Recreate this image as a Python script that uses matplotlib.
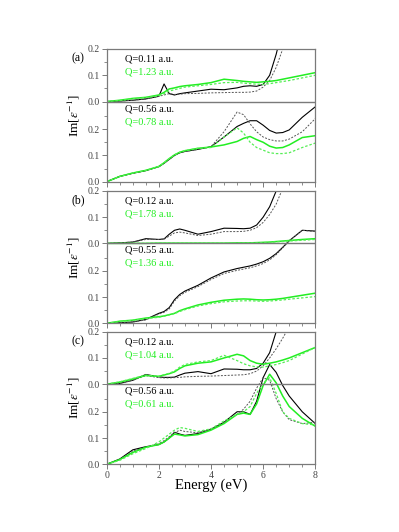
import matplotlib
matplotlib.use("Agg")
import matplotlib.pyplot as plt
from matplotlib.ticker import AutoMinorLocator, FixedLocator

plt.rcParams['font.family'] = ['Liberation Serif', 'DejaVu Serif']
plt.rcParams['mathtext.fontset'] = 'stix'

# energy grid (eV)
energy = [0, 0.5, 1, 1.5, 2, 2.2, 2.4, 2.6, 2.8, 3, 3.5, 4, 4.5, 5, 5.25,
          5.5, 5.75, 6, 6.25, 6.5, 6.75, 7, 7.5, 8]

# panel (a)
a_top_black = [0, 0.002, 0.005, 0.01, 0.02, 0.067, 0.03, 0.025, 0.03, 0.033, 0.04, 0.047,
               0.045, 0.052, 0.058, 0.06, 0.058, 0.065, 0.1, 0.18, 0.28, 0.4, 0.6, 0.8]
a_top_black_dot = [0, 0.002, 0.005, 0.01, 0.02, 0.025, 0.03, 0.027, 0.028, 0.03, 0.031, 0.033,
                   0.034, 0.035, 0.035, 0.036, 0.04, 0.055, 0.08, 0.13, 0.2, 0.28, 0.45, 0.6]
a_top_green = [0, 0.005, 0.012, 0.016, 0.025, 0.035, 0.048, 0.052, 0.057, 0.06, 0.065, 0.072,
               0.085, 0.08, 0.077, 0.075, 0.073, 0.075, 0.077, 0.08, 0.085, 0.09, 0.1, 0.11]
a_top_green_dot = [0, 0.004, 0.01, 0.015, 0.022, 0.03, 0.04, 0.045, 0.05, 0.055, 0.06, 0.065,
                   0.072, 0.073, 0.07, 0.068, 0.066, 0.065, 0.068, 0.072, 0.076, 0.08, 0.09, 0.1]
a_bot_black = [0, 0.02, 0.032, 0.042, 0.057, 0.07, 0.085, 0.1, 0.11, 0.115, 0.123, 0.133,
               0.17, 0.21, 0.222, 0.232, 0.232, 0.215, 0.195, 0.185, 0.187, 0.197, 0.245, 0.285]
a_bot_black_dot = [0, 0.02, 0.032, 0.042, 0.057, 0.07, 0.085, 0.1, 0.11, 0.115, 0.123, 0.133,
                   0.19, 0.265, 0.255, 0.22, 0.19, 0.17, 0.16, 0.155, 0.155, 0.162, 0.19, 0.24]
a_bot_green = [0, 0.02, 0.033, 0.043, 0.058, 0.072, 0.088, 0.102, 0.112, 0.118, 0.127, 0.132,
               0.14, 0.153, 0.165, 0.172, 0.16, 0.15, 0.135, 0.128, 0.13, 0.14, 0.168, 0.175]
a_bot_green_dot = [0, 0.02, 0.033, 0.043, 0.058, 0.072, 0.088, 0.102, 0.112, 0.118, 0.127, 0.13,
                   0.17, 0.205, 0.185, 0.15, 0.13, 0.12, 0.11, 0.107, 0.107, 0.11, 0.13, 0.147]

# panel (b)
b_top_black = [0, 0.002, 0.005, 0.018, 0.015, 0.017, 0.035, 0.05, 0.055, 0.05, 0.035, 0.045,
               0.058, 0.057, 0.056, 0.058, 0.07, 0.1, 0.14, 0.2, 0.27, 0.35, 0.5, 0.7]
b_top_black_dot = [0, 0.002, 0.005, 0.015, 0.015, 0.016, 0.028, 0.04, 0.043, 0.04, 0.03, 0.035,
                   0.045, 0.045, 0.046, 0.05, 0.06, 0.08, 0.11, 0.15, 0.21, 0.28, 0.42, 0.6]
b_top_green = [0, 0, 0, 0, 0.001, 0.001, 0.001, 0.001, 0.001, 0.001, 0.001, 0.001,
               0.001, 0.002, 0.002, 0.002, 0.003, 0.004, 0.005, 0.007, 0.009, 0.011, 0.015, 0.018]
b_top_green_dot = [0, 0, 0, 0, 0.001, 0.001, 0.001, 0.001, 0.001, 0.001, 0.001, 0.001,
                   0.001, 0.001, 0.002, 0.002, 0.002, 0.003, 0.004, 0.006, 0.007, 0.009, 0.012, 0.015]
b_bot_black = [0, 0.002, 0.005, 0.015, 0.038, 0.045, 0.06, 0.09, 0.11, 0.123, 0.145, 0.173,
               0.196, 0.209, 0.214, 0.219, 0.226, 0.235, 0.248, 0.266, 0.29, 0.315, 0.355, 0.352]
b_bot_black_dot = [0, 0.002, 0.005, 0.013, 0.035, 0.042, 0.055, 0.085, 0.105, 0.118, 0.14, 0.167,
                   0.19, 0.202, 0.207, 0.212, 0.219, 0.228, 0.242, 0.262, 0.288, 0.315, 0.355, 0.35]
b_bot_green = [0, 0.008, 0.012, 0.02, 0.025, 0.028, 0.033, 0.038, 0.048, 0.055, 0.07, 0.08,
               0.088, 0.092, 0.093, 0.092, 0.09, 0.089, 0.09, 0.092, 0.095, 0.099, 0.107, 0.115]
b_bot_green_dot = [0, 0.007, 0.011, 0.018, 0.023, 0.027, 0.032, 0.037, 0.045, 0.052, 0.066, 0.075,
                   0.082, 0.085, 0.086, 0.086, 0.085, 0.084, 0.085, 0.087, 0.089, 0.092, 0.097, 0.102]

# panel (c)
c_top_black = [0, 0.003, 0.015, 0.037, 0.028, 0.026, 0.026, 0.027, 0.035, 0.042, 0.048, 0.04,
               0.058, 0.057, 0.055, 0.055, 0.06, 0.08, 0.12, 0.2, 0.28, 0.37, 0.55, 0.75]
c_top_black_dot = [0, 0.003, 0.015, 0.033, 0.025, 0.024, 0.024, 0.025, 0.026, 0.028, 0.03, 0.031,
                   0.033, 0.035, 0.036, 0.04, 0.05, 0.07, 0.1, 0.135, 0.175, 0.22, 0.33, 0.45]
c_top_green = [0, 0.008, 0.02, 0.033, 0.03, 0.035, 0.04, 0.047, 0.06, 0.07, 0.08, 0.085,
               0.1, 0.114, 0.108, 0.09, 0.08, 0.076, 0.08, 0.085, 0.092, 0.1, 0.12, 0.14]
c_top_green_dot = [0, 0.009, 0.022, 0.035, 0.03, 0.036, 0.042, 0.05, 0.065, 0.075, 0.085, 0.09,
                   0.11, 0.09, 0.078, 0.07, 0.066, 0.065, 0.07, 0.075, 0.082, 0.09, 0.115, 0.14]
c_bot_black = [0, 0.02, 0.055, 0.067, 0.075, 0.085, 0.1, 0.122, 0.115, 0.11, 0.117, 0.133,
               0.16, 0.2, 0.2, 0.19, 0.24, 0.33, 0.38, 0.35, 0.3, 0.26, 0.2, 0.155]
c_bot_black_dot = [0, 0.018, 0.05, 0.065, 0.078, 0.09, 0.105, 0.12, 0.13, 0.125, 0.12, 0.135,
                   0.16, 0.19, 0.21, 0.24, 0.29, 0.33, 0.32, 0.25, 0.2, 0.17, 0.155, 0.16]
c_bot_green = [0, 0.018, 0.045, 0.065, 0.075, 0.085, 0.1, 0.115, 0.112, 0.108, 0.113, 0.13,
               0.155, 0.19, 0.195, 0.19, 0.23, 0.3, 0.343, 0.31, 0.26, 0.22, 0.175, 0.145]
c_bot_green_dot = [0, 0.015, 0.04, 0.06, 0.085, 0.1, 0.115, 0.13, 0.14, 0.137, 0.125, 0.135,
                   0.165, 0.19, 0.2, 0.22, 0.27, 0.31, 0.33, 0.27, 0.2, 0.175, 0.155, 0.15]

panel_tags = ['(a)', '(b)', '(c)']
top_labels = [('Q=0.11 a.u.', 'Q=1.23 a.u.'), ('Q=0.12 a.u.', 'Q=1.78 a.u.'), ('Q=0.12 a.u.', 'Q=1.04 a.u.')]
bot_labels = [('Q=0.56 a.u.', 'Q=0.78 a.u.'), ('Q=0.55 a.u.', 'Q=1.36 a.u.'), ('Q=0.56 a.u.', 'Q=0.61 a.u.')]
panels = [
    (a_top_black, a_top_black_dot, a_top_green, a_top_green_dot,
     a_bot_black, a_bot_black_dot, a_bot_green, a_bot_green_dot),
    (b_top_black, b_top_black_dot, b_top_green, b_top_green_dot,
     b_bot_black, b_bot_black_dot, b_bot_green, b_bot_green_dot),
    (c_top_black, c_top_black_dot, c_top_green, c_top_green_dot,
     c_bot_black, c_bot_black_dot, c_bot_green, c_bot_green_dot),
]

OFF = 0.305   # top block sits on top of the lower block
GREEN = '#22ee22'
GREEN_DOT = '#55ee55'
FRAME = '#7a7a7a'

fig = plt.figure(figsize=(3.99, 5.32), dpi=100)
boxes = [(0.2674, 0.6585, 0.5228, 0.2494),
         (0.2674, 0.3923, 0.5228, 0.2487),
         (0.2674, 0.1273, 0.5228, 0.2492)]

for i, box in enumerate(boxes):
    ax = fig.add_axes(box)
    tb, tbd, tg, tgd, bb, bbd, bg, bgd = panels[i]
    ax.plot(energy, bb, color='black', lw=0.8)
    ax.plot(energy, bbd, color='#555555', lw=0.7, ls=(0, (2, 1.5)))
    ax.plot(energy, bg, color=GREEN, lw=1.1)
    ax.plot(energy, bgd, color=GREEN_DOT, lw=0.9, ls=(0, (2, 1.5)))
    ax.plot(energy, [v + OFF for v in tb], color='black', lw=0.8)
    ax.plot(energy, [v + OFF for v in tbd], color='#555555', lw=0.7, ls=(0, (2, 1.5)))
    ax.plot(energy, [v + OFF for v in tg], color=GREEN, lw=1.1)
    ax.plot(energy, [v + OFF for v in tgd], color=GREEN_DOT, lw=0.9, ls=(0, (2, 1.5)))
    ax.axhline(OFF, color=FRAME, lw=1.0)

    ax.set_xlim(0, 8)
    ax.set_ylim(0, OFF + 0.2)
    ax.yaxis.set_major_locator(FixedLocator([0, 0.1, 0.2, OFF, OFF + 0.1, OFF + 0.2]))
    ax.set_yticklabels(['0.0', '0.1', '0.2', '0.0', '0.1', '0.2'])
    ax.yaxis.set_minor_locator(FixedLocator([0.05, 0.15, 0.25, OFF + 0.05, OFF + 0.15]))
    ax.xaxis.set_minor_locator(AutoMinorLocator(4))
    ax.tick_params(which='major', direction='out', length=3.5, width=0.7, color=FRAME,
                   labelsize=7, labelcolor='#444444', pad=1.2)
    ax.tick_params(which='minor', direction='out', length=2, width=0.6, color=FRAME)
    for s in ax.spines.values():
        s.set_color(FRAME)
        s.set_linewidth(0.9)
    if i < 2:
        ax.tick_params(axis='x', labelbottom=False)
    else:
        ax.set_xlabel('Energy (eV)', fontsize=10.5, labelpad=-1)

    ax.text(0.7, OFF + 0.162, top_labels[i][0], fontsize=7.5, color='black', va='center')
    ax.text(0.7, OFF + 0.112, top_labels[i][1], fontsize=7.5, color=GREEN, va='center')
    ax.text(0.7, OFF - 0.027, bot_labels[i][0], fontsize=7.5, color='black', va='center')
    ax.text(0.7, OFF - 0.076, bot_labels[i][1], fontsize=7.5, color=GREEN, va='center')

    ax.set_ylabel(r'Im[$\varepsilon^{-1}$]', fontsize=9.5, labelpad=4)
    ax.text(-0.138, 0.93, panel_tags[i], transform=ax.transAxes, fontsize=8.5,
            ha='center', va='center')

fig.savefig('out.png', dpi=100)
